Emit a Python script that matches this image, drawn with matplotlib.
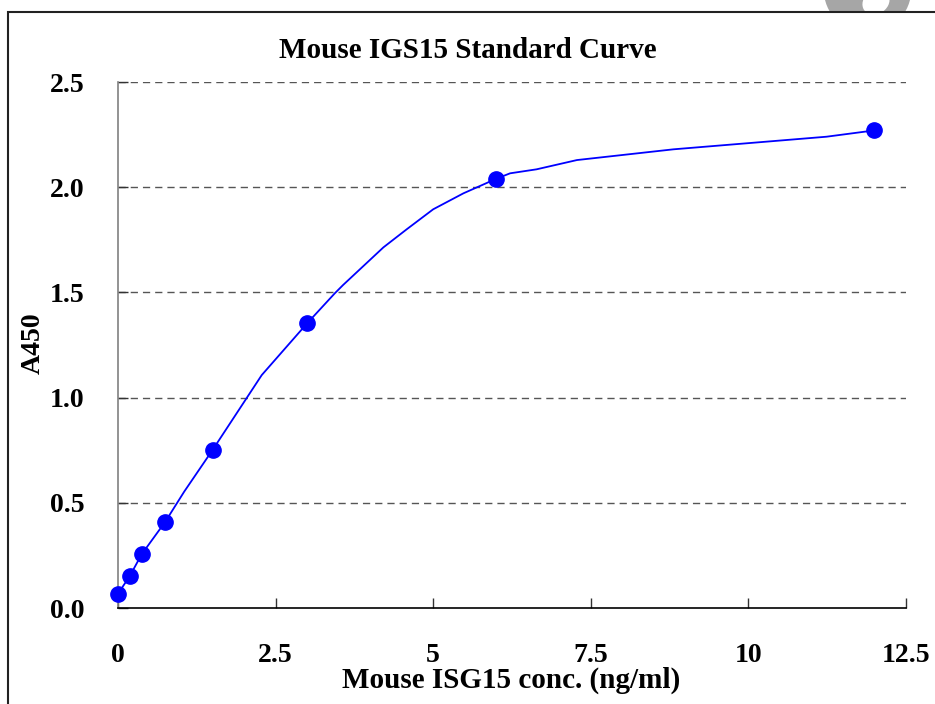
import matplotlib
matplotlib.use("Agg")
import matplotlib.pyplot as plt
from matplotlib.patches import Rectangle, Circle, Ellipse

# ---- data ----
std_conc = [0, 0.1875, 0.375, 0.75, 1.5, 3, 6, 12]
std_a450 = [0.068, 0.152, 0.255, 0.41, 0.751, 1.355, 2.04, 2.27]

curve_conc = [0, 0.1875, 0.375, 0.75, 1.05, 1.5, 2.28, 3.0, 3.44, 3.57, 4.21,
              4.58, 5.0, 5.48, 6.0, 6.22, 6.64, 7.28, 8.81, 11.24, 12]
curve_a450 = [0.068, 0.152, 0.255, 0.41, 0.553, 0.751, 1.107, 1.353, 1.496, 1.535, 1.714,
              1.80, 1.895, 1.971, 2.04, 2.066, 2.085, 2.129, 2.18, 2.24, 2.27]

x_ticks = [0, 2.5, 5, 7.5, 10, 12.5]
x_tick_labels = ["0", "2.5", "5", "7.5", "10", "12.5"]
y_ticks = [0.0, 0.5, 1.0, 1.5, 2.0, 2.5]
y_tick_labels = ["0.0", "0.5", "1.0", "1.5", "2.0", "2.5"]

title = "Mouse IGS15 Standard Curve"
xlabel = "Mouse ISG15 conc. (ng/ml)"
ylabel = "A450"

plt.rcParams['font.family'] = ['Liberation Serif', 'DejaVu Serif']
plt.rcParams['lines.scale_dashes'] = False

W, H = 935, 704
fig = plt.figure(figsize=(W / 100, H / 100), dpi=100)
fig.patch.set_facecolor("white")

def fx(px):
    return px / W

def fy(py):
    return 1 - py / H

# watermark fragment at top right
fig.add_artist(Ellipse((fx(867.5), fy(-10.7)), 2 * 43.8 / W, 2 * 43.8 / H,
                       transform=fig.transFigure,
                       facecolor="#a6a6a6", edgecolor="none", zorder=0))
fig.add_artist(Ellipse((fx(876), fy(2)), 26 / W, 26 / H, angle=-20,
                       transform=fig.transFigure, facecolor="white",
                       edgecolor="none", zorder=0.5))
# white cover below frame top so watermark only shows above
fig.add_artist(Rectangle((fx(8), 0), 1, fy(12), transform=fig.transFigure,
                         facecolor="white", edgecolor="none", zorder=0.8))
# frame
fig.add_artist(Rectangle((fx(8), fy(800)), fx(1100), (800 - 12) / H,
                         transform=fig.transFigure, facecolor="none",
                         edgecolor="#222222", linewidth=1.5, zorder=1,
                         clip_on=False))

ax = fig.add_axes([fx(118), fy(608), fx(906) - fx(118), fy(82) - fy(608)])
ax.set_zorder(2)
ax.set_facecolor("none")
ax.set_xlim(0, 12.5)
ax.set_ylim(0, 2.5)

for yv in y_ticks[1:]:
    ax.axhline(yv, color="#555555", linewidth=1.0, dashes=[5.2, 3.6], zorder=1)

ax.plot(curve_conc, curve_a450, color="#0000ff", linewidth=1.3, zorder=3,
        clip_on=False)
ax.plot(std_conc, std_a450, linestyle="none", marker="o", markersize=11,
        color="#0000ff", markeredgecolor="#0000ff", zorder=4, clip_on=False)

ax.spines["top"].set_visible(False)
ax.spines["right"].set_visible(False)
ax.spines["bottom"].set_color("black")
ax.spines["bottom"].set_linewidth(1.2)
ax.spines["left"].set_color("#808080")
ax.spines["left"].set_linewidth(1.2)

ax.set_xticks(x_ticks)
ax.set_xticklabels(x_tick_labels)
ax.set_yticks(y_ticks)
ax.set_yticklabels(y_tick_labels)
ax.tick_params(axis="x", direction="in", length=7, width=1, color="#333333",
               pad=25, labelsize=20)
ax.tick_params(axis="y", direction="in", length=7, width=1, color="#333333",
               pad=24, labelsize=20)
for lab in ax.get_xticklabels() + ax.get_yticklabels():
    lab.set_fontweight("bold")

fig.text(fx(468), fy(50), title, ha="center", va="center",
         fontsize=21, fontweight="bold")
fig.text(fx(511), fy(680), xlabel, ha="center", va="center",
         fontsize=21, fontweight="bold")
fig.text(fx(33), fy(343), ylabel, ha="center", va="center", rotation=90,
         fontsize=20, fontweight="bold")

fig.savefig("out.png", dpi=100, facecolor="white")
